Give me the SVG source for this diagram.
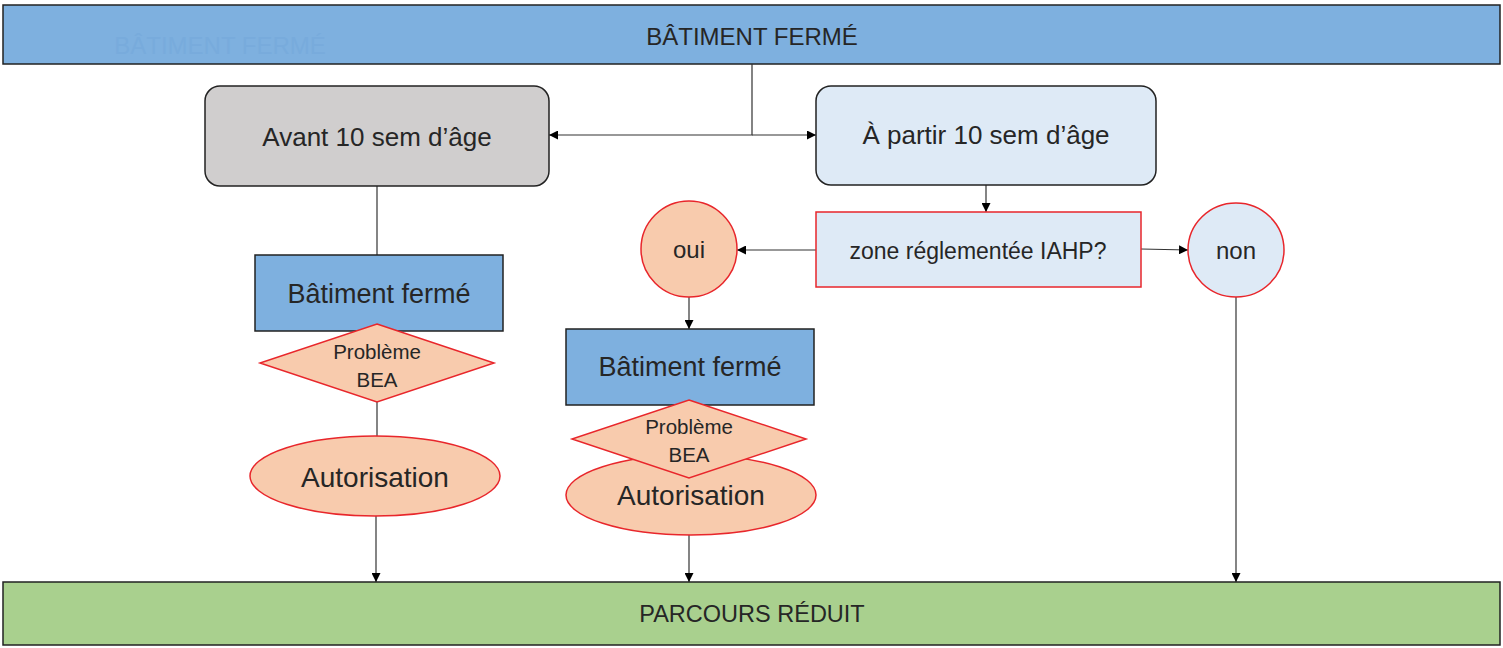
<svg xmlns="http://www.w3.org/2000/svg" width="1503" height="648" viewBox="0 0 1503 648">
<defs>
<marker id="arr" viewBox="0 0 10 10" refX="10" refY="5" markerWidth="9" markerHeight="9" markerUnits="userSpaceOnUse" orient="auto"><path d="M0,0 L10,5 L0,10 z" fill="#000"/></marker>
<style>
text{font-family:"Liberation Sans",Arial,sans-serif;fill:#262626;text-anchor:middle;dominant-baseline:central}
.bar{fill:#7eb0df;stroke:#222;stroke-width:1.5}
.blue{fill:#7eb0df;stroke:#222;stroke-width:1.5}
.red{stroke:#e8262b;stroke-width:1.5}
.peach{fill:#f8cbad}
.lb{fill:#deeaf6}
.c{fill:none;stroke:#333;stroke-width:1.2}
</style>
</defs>
<g id="top">
<rect class="bar" x="3" y="5" width="1497" height="59"/>
<text x="220" y="45" font-size="24" style="fill:#78abdc">BÂTIMENT FERMÉ</text>
<text x="752" y="36" font-size="24">BÂTIMENT FERMÉ</text>
</g>
<g id="bottom">
<rect x="3" y="582" width="1497" height="63" fill="#a9d08e" stroke="#222" stroke-width="1.5"/>
<text x="752" y="614" font-size="23.5">PARCOURS RÉDUIT</text>
</g>
<g id="connectors">
<polyline class="c" points="752,64 752,135 549,135" marker-end="url(#arr)"/>
<polyline class="c" points="752,135 816,135" marker-end="url(#arr)"/>
<line class="c" x1="986" y1="185" x2="986" y2="212" marker-end="url(#arr)"/>
<line class="c" x1="816" y1="250" x2="737" y2="250" marker-end="url(#arr)"/>
<line class="c" x1="1141" y1="249" x2="1188" y2="250" marker-end="url(#arr)"/>
<line class="c" x1="1236" y1="297" x2="1236" y2="582" marker-end="url(#arr)"/>
<line class="c" x1="377" y1="186" x2="377" y2="255"/>
<line class="c" x1="377" y1="402" x2="377" y2="436"/>
<line class="c" x1="376" y1="516" x2="376" y2="582" marker-end="url(#arr)"/>
<line class="c" x1="689" y1="297" x2="689" y2="329" marker-end="url(#arr)"/>
<line class="c" x1="689" y1="535" x2="689" y2="582" marker-end="url(#arr)"/>
</g>
<g id="avant">
<rect x="205" y="86" width="344" height="100" rx="15" fill="#d0cece" stroke="#222" stroke-width="1.5"/>
<text x="377" y="137" font-size="26">Avant 10 sem d’âge</text>
</g>
<g id="apartir">
<rect x="816" y="86" width="340" height="99" rx="15" fill="#deeaf6" stroke="#222" stroke-width="1.5"/>
<text x="986" y="135" font-size="26">À partir 10 sem d’âge</text>
</g>
<g id="zone">
<rect class="lb red" x="816" y="212" width="325" height="75"/>
<text x="978" y="251" font-size="23">zone réglementée IAHP?</text>
</g>
<g id="oui">
<ellipse class="peach red" cx="689" cy="249" rx="48" ry="48"/>
<text x="689" y="249" font-size="24">oui</text>
</g>
<g id="non">
<ellipse class="lb red" cx="1236" cy="250" rx="48" ry="47"/>
<text x="1236" y="250" font-size="24">non</text>
</g>
<g id="batiment1">
<rect class="blue" x="255" y="255" width="248" height="76"/>
<text x="379" y="294" font-size="27">Bâtiment fermé</text>
</g>
<g id="probleme1">
<polygon class="peach red" points="377,324 494,363 377,402 260,363"/>
<text x="377" y="351" font-size="20.5">Problème</text>
<text x="377" y="379" font-size="20.5">BEA</text>
</g>
<g id="autorisation1">
<ellipse class="peach red" cx="375" cy="476" rx="125" ry="40"/>
<text x="375" y="477" font-size="28">Autorisation</text>
</g>
<g id="batiment2">
<rect class="blue" x="566" y="329" width="248" height="76"/>
<text x="690" y="367" font-size="27">Bâtiment fermé</text>
</g>
<g id="autorisation2">
<ellipse class="peach red" cx="691" cy="495" rx="125" ry="40"/>
<text x="691" y="495" font-size="28">Autorisation</text>
</g>
<g id="probleme2">
<polygon class="peach red" points="689,400 806,439 689,478 572,439"/>
<text x="689" y="426" font-size="20.5">Problème</text>
<text x="689" y="454" font-size="20.5">BEA</text>
</g>
</svg>
